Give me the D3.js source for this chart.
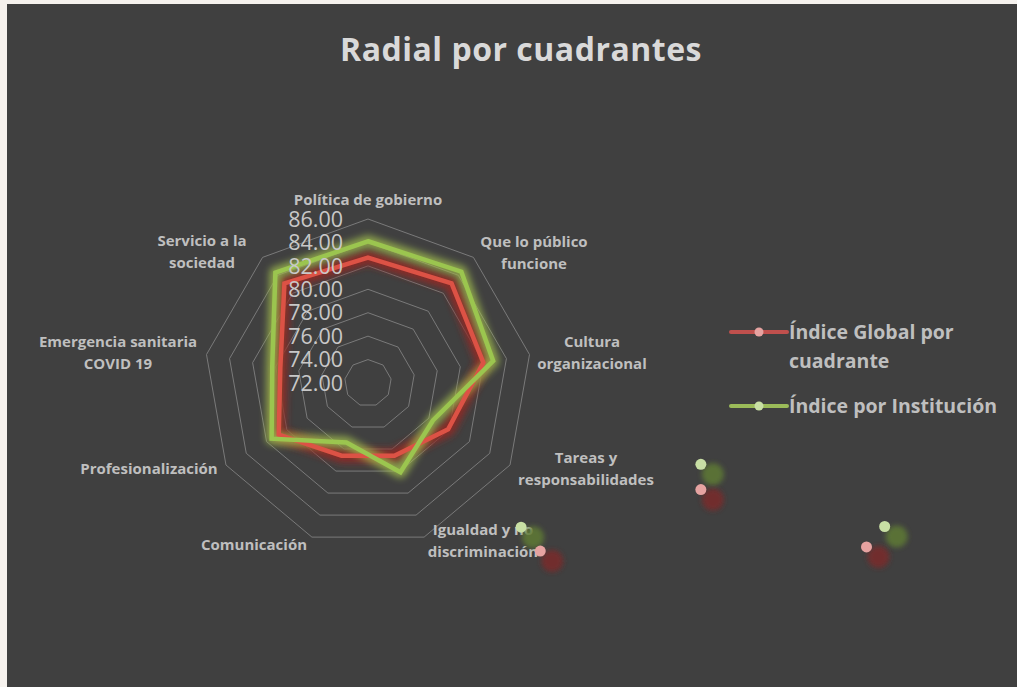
<!DOCTYPE html>
<html>
<head>
<meta charset="utf-8">
<script src="https://cdn.jsdelivr.net/npm/d3@7"></script>
<style>
  body { margin: 0; background: #f6f2ee; }
  svg text { font-family: "Open Sans", sans-serif; }
</style>
</head>
<body>
<svg id="chart"></svg>
<script>
// categories clockwise from the top, label lines
var categories = [
  ["Política de gobierno"],
  ["Que lo público", "funcione"],
  ["Cultura", "organizacional"],
  ["Tareas y", "responsabilidades"],
  ["Igualdad y no", "discriminación"],
  ["Comunicación"],
  ["Profesionalización"],
  ["Emergencia sanitaria", "COVID 19"],
  ["Servicio a la", "sociedad"]
];
var globalValues = [82.7, 83.1, 82.0, 79.9, 78.6, 78.6, 80.8, 79.6, 83.1];
var institucionValues = [84.1, 84.4, 82.85, 78.4, 80.1, 77.4, 81.5, 80.3, 84.3];
var tickValues = [72, 74, 76, 78, 80, 82, 84, 86];
var seriesNames = ["Índice Global por cuadrante", "Índice por Institución"];

// stray marker artefacts (fractions of chart area) : [series, fx, fy]
var strayMarkers = [
  [1, 0.509, 0.766], [0, 0.528, 0.801],
  [1, 0.687, 0.674], [0, 0.687, 0.711],
  [1, 0.869, 0.765], [0, 0.851, 0.795]
];

var width = 1017, height = 687;
var svg = d3.select("#chart").attr("width", width).attr("height", height);

var defs = svg.append("defs");
defs.append("filter").attr("id", "blur4").attr("x", "-20%").attr("y", "-20%")
  .attr("width", "140%").attr("height", "140%")
  .append("feGaussianBlur").attr("stdDeviation", 3.5);
defs.append("filter").attr("id", "blur6").attr("x", "-100%").attr("y", "-100%")
  .attr("width", "300%").attr("height", "300%")
  .append("feGaussianBlur").attr("stdDeviation", 2.5);

// chart area
var area = { x: 7, y: 4, w: 1010, h: 683 };
svg.append("rect")
  .attr("x", area.x).attr("y", area.y)
  .attr("width", area.w + 5).attr("height", area.h + 5)
  .style("fill", "#404040");

svg.append("text")
  .attr("x", 521).attr("y", 61)
  .attr("text-anchor", "middle")
  .style("font-size", "32px").style("font-weight", "bold")
  .style("letter-spacing", "0.5px")
  .style("fill", "#d9d9d9")
  .text("Radial por cuadrantes");

var cx = 368, cy = 383;
var r = d3.scaleLinear().domain([72, 86]).range([0, 164]);
var angle = d3.scaleLinear().domain([0, categories.length]).range([0, 2 * Math.PI]);

function pt(i, v) {
  var a = angle(i);
  return [cx + Math.sin(a) * r(v), cy - Math.cos(a) * r(v)];
}

var g = svg.append("g");

// grid rings
var ring = d3.line().curve(d3.curveLinearClosed);
g.selectAll("path.ring")
  .data(tickValues.slice(1))
  .enter().append("path")
  .attr("class", "ring")
  .attr("d", function(t) { return ring(categories.map(function(c, i) { return pt(i, t); })); })
  .style("fill", "none")
  .style("stroke", "#7a7a7a")
  .style("stroke-width", 1);

// series
var series = [
  { vals: globalValues, line: "#dc5245", glow: "#8e2a26", glowW: 14, glowOp: 0.95, dot: "#e6a3a1", legend: "#c0504d" },
  { vals: institucionValues, line: "#9bc54f", glow: "#a4c24f", glowW: 12, glowOp: 0.75, dot: "#c8dfa4", legend: "#9bbb59" }
];

series.forEach(function(s) {
  var d = ring(s.vals.map(function(v, i) { return pt(i, v); }));
  g.append("path").attr("d", d)
    .style("fill", "none").style("stroke", s.glow)
    .style("stroke-width", s.glowW).style("stroke-linejoin", "round")
    .style("opacity", s.glowOp)
    .attr("filter", "url(#blur4)");
});
series.forEach(function(s) {
  var d = ring(s.vals.map(function(v, i) { return pt(i, v); }));
  g.append("path").attr("d", d)
    .style("fill", "none").style("stroke", s.line)
    .style("stroke-width", 4.5).style("stroke-linejoin", "miter");
});

// tick labels
g.selectAll("text.tick")
  .data(tickValues)
  .enter().append("text")
  .attr("x", cx - 25)
  .attr("y", function(t) { return cy - r(t); })
  .attr("dy", "0.36em")
  .attr("text-anchor", "end")
  .style("font-size", "21.5px")
  .style("fill", "#c8c8c8")
  .text(function(t) { return t.toFixed(2); });

// category labels
var labelPos = [
  [368, 205], [534, 247], [592, 347], [586, 463], [483, 535],
  [254, 550], [149, 474], [118, 347], [202, 246]
];
categories.forEach(function(lines, i) {
  var t = g.append("text")
    .attr("text-anchor", "middle")
    .style("font-size", "15px").style("font-weight", "bold")
    .style("fill", "#bfbfbf");
  lines.forEach(function(l, k) {
    t.append("tspan").attr("x", labelPos[i][0]).attr("y", labelPos[i][1] + k * 22).text(l);
  });
});

// legend
var legend = svg.append("g");
var legY = [332, 406];
series.forEach(function(s, i) {
  legend.append("line")
    .attr("x1", 731).attr("x2", 787).attr("y1", legY[i]).attr("y2", legY[i])
    .style("stroke", s.legend).style("stroke-width", 4).style("stroke-linecap", "round");
  legend.append("circle")
    .attr("cx", 759).attr("cy", legY[i]).attr("r", 4.5)
    .style("fill", s.dot);
});
var lt = legend.append("text").style("font-size", "19.5px").style("font-weight", "bold").style("fill", "#bfbfbf");
lt.append("tspan").attr("x", 789).attr("y", 339).text("Índice Global por");
lt.append("tspan").attr("x", 789).attr("y", 368).text("cuadrante");
legend.append("text").attr("x", 789).attr("y", 413)
  .style("font-size", "19.5px").style("font-weight", "bold").style("fill", "#bfbfbf")
  .text(seriesNames[1]);

// stray markers with offset shadows
var fx = d3.scaleLinear().domain([0, 1]).range([area.x, area.x + area.w]);
var fy = d3.scaleLinear().domain([0, 1]).range([area.y, area.y + area.h]);
var shadowCol = ["#7a2a2a", "#5e7a34"];
strayMarkers.forEach(function(m) {
  svg.append("circle")
    .attr("cx", fx(m[1]) + 12).attr("cy", fy(m[2]) + 10).attr("r", 11)
    .style("fill", shadowCol[m[0]]).style("opacity", 0.85)
    .attr("filter", "url(#blur6)");
});
strayMarkers.forEach(function(m) {
  svg.append("circle")
    .attr("cx", fx(m[1])).attr("cy", fy(m[2])).attr("r", 5.5)
    .style("fill", series[m[0]].dot);
});
</script>
</body>
</html>
